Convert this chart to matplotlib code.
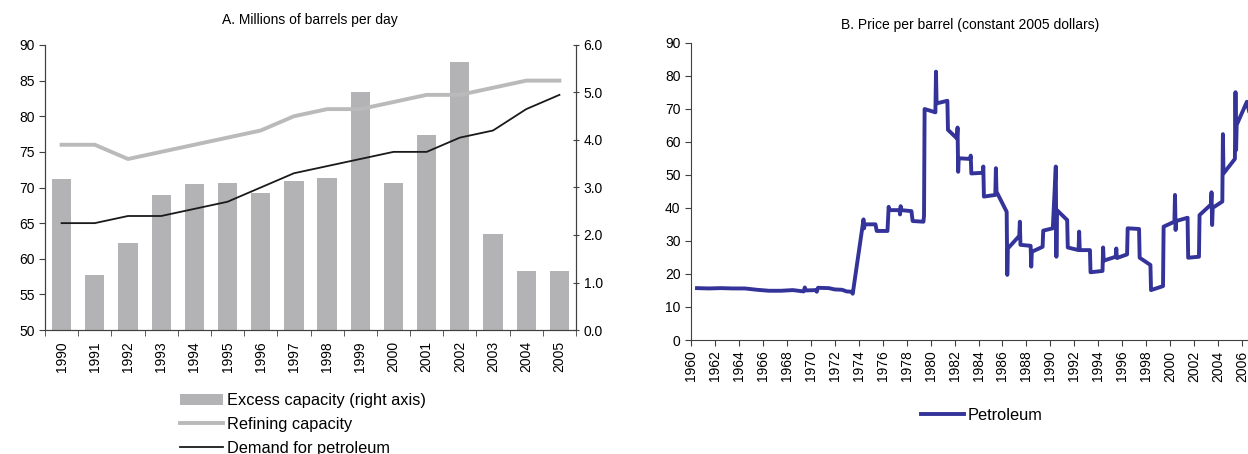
import numpy as np
import matplotlib.pyplot as plt
from matplotlib.ticker import FormatStrFormatter
from matplotlib.patches import Patch
from matplotlib.lines import Line2D

plt.rcParams['font.family'] = ['Liberation Sans', 'DejaVu Sans']
plt.rcParams['font.size'] = 10

# Panel A data (millions of barrels per day)
years_a = list(range(1990, 2006))
excess_capacity = [3.18, 1.16, 1.84, 2.85, 3.07, 3.09, 2.88, 3.14,
                   3.20, 5.01, 3.09, 4.10, 5.64, 2.02, 1.25, 1.25]
refining_capacity = [76, 76, 74, 75, 76, 77, 78, 80, 81, 81, 82, 83, 83, 84, 85, 85]
demand = [65, 65, 66, 66, 67, 68, 70, 72, 73, 74, 75, 75, 77, 78, 81, 83]

# Panel B data (price per barrel, constant 2005 dollars)
price_year = [1960.5, 1961.5, 1962.5, 1963.5, 1964.5, 1965.5, 1966.5, 1967.5,
              1968.5, 1969.4, 1969.5, 1969.6, 1970.4, 1970.5, 1970.6, 1971.5,
              1972.0, 1972.6, 1973.0, 1973.4, 1973.5, 1974.4, 1974.45, 1974.5,
              1975.4, 1975.5, 1976.4, 1976.5, 1976.55, 1977.4, 1977.45, 1977.5,
              1977.55, 1978.4, 1978.5, 1979.4, 1979.45, 1979.5, 1980.4, 1980.45,
              1980.5, 1981.4, 1981.45, 1982.2, 1982.25, 1982.3, 1982.35, 1983.3,
              1983.35, 1983.4, 1984.35, 1984.4, 1984.45, 1985.4, 1985.45, 1985.5,
              1986.35, 1986.4, 1986.45, 1987.4, 1987.45, 1987.5, 1988.35, 1988.4,
              1988.45, 1989.35, 1989.4, 1990.2, 1990.45, 1990.5, 1990.55, 1991.4,
              1991.45, 1992.35, 1992.4, 1992.45, 1993.3, 1993.35, 1994.35, 1994.4,
              1994.45, 1995.45, 1995.5, 1995.55, 1996.4, 1996.45, 1997.4, 1997.45,
              1998.35, 1998.4, 1999.4, 1999.45, 2000.35, 2000.4, 2000.45, 2000.5,
              2001.45, 2001.5, 2002.4, 2002.45, 2003.4, 2003.45, 2003.5, 2003.55,
              2004.35, 2004.4, 2004.45, 2005.4, 2005.45, 2005.5, 2005.55, 2006.4,
              2006.6]
price_value = [15.7, 15.6, 15.7, 15.6, 15.6, 15.2, 14.9, 14.9,
               15.1, 14.7, 15.9, 15.0, 15.1, 14.6, 15.8, 15.7,
               15.3, 15.2, 14.7, 14.6, 14.0, 36.5, 33.8, 35.0,
               35.0, 33.0, 33.0, 40.3, 39.3, 39.3, 38.0, 40.5,
               39.3, 39.0, 36.0, 35.8, 37.5, 69.9, 68.9, 81.2,
               71.6, 72.4, 63.6, 61.0, 64.3, 50.9, 55.0, 54.8,
               55.8, 50.4, 50.6, 52.5, 43.4, 43.9, 52.0, 44.9,
               38.8, 19.7, 27.7, 31.5, 35.8, 28.8, 28.5, 22.2,
               26.7, 28.2, 33.1, 33.8, 52.5, 25.2, 39.3, 36.3,
               28.0, 27.2, 32.8, 27.2, 27.2, 20.5, 20.9, 28.0,
               24.0, 25.2, 27.7, 24.8, 25.9, 33.8, 33.6, 24.9,
               22.7, 15.1, 16.3, 34.3, 35.8, 43.9, 33.3, 36.0,
               37.0, 24.9, 25.2, 37.8, 41.0, 44.7, 34.8, 40.0,
               41.9, 62.3, 50.4, 54.8, 75.0, 57.5, 65.1, 72.1,
               69.0]

AXIS = '#404040'
BAR_GRAY = '#b3b3b6'
LINE_GRAY = '#bababa'
NAVY = '#333399'
LEGEND_SIZE = 11.8

fig = plt.figure(figsize=(12.48, 4.54), dpi=100)

# Panel A
ax1 = fig.add_axes([45 / 1248, 124 / 454, 531 / 1248, 285 / 454])
ax2 = ax1.twinx()
x = np.arange(len(years_a))

ax2.bar(x, excess_capacity, width=0.58, color=BAR_GRAY)
ax1.plot(x, refining_capacity, color=LINE_GRAY, linewidth=2.8)
ax1.plot(x, demand, color='#1a1a1a', linewidth=1.3)
ax1.set_zorder(ax2.get_zorder() + 1)
ax1.patch.set_visible(False)

ax1.set_xlim(-0.5, len(years_a) - 0.5)
ax1.set_ylim(50, 90)
ax2.set_ylim(0, 6)
ax1.set_yticks(range(50, 91, 5))
ax2.set_yticks(np.arange(0, 6.1, 1))
ax2.yaxis.set_major_formatter(FormatStrFormatter('%.1f'))

ax1.set_xticks(x)
ax1.set_xticklabels([str(y) for y in years_a], rotation=90)
ax1.set_xticks(np.arange(-0.5, len(years_a), 1), minor=True)
ax1.tick_params(axis='x', which='major', length=0, pad=8)
ax1.tick_params(axis='x', which='minor', length=4, color=AXIS)
ax1.tick_params(axis='y', length=4, color=AXIS)
ax2.tick_params(axis='y', length=4, color=AXIS, direction='inout')

for a in (ax1, ax2):
    a.spines['top'].set_visible(False)
    for s in ('left', 'right', 'bottom'):
        a.spines[s].set_color(AXIS)

fig.text(310 / 1248, 1 - 20 / 454, 'A. Millions of barrels per day',
         ha='center', va='center')

handles_a = [Patch(facecolor=BAR_GRAY, edgecolor='none'),
             Line2D([], [], color=LINE_GRAY, linewidth=2.8),
             Line2D([], [], color='#1a1a1a', linewidth=1.3)]
labels_a = ['Excess capacity (right axis)', 'Refining capacity', 'Demand for petroleum']
fig.legend(handles_a, labels_a, loc='upper left',
           bbox_to_anchor=(180 / 1248, 1 - 393 / 454), frameon=False,
           borderpad=0, borderaxespad=0, handlelength=2.65,
           handletextpad=0.2, labelspacing=0.55, fontsize=LEGEND_SIZE)

# Panel B
ax3 = fig.add_axes([691 / 1248, 114 / 454, 48 * 11.98 / 1248, 297.4 / 454])
ax3.plot(price_year, price_value, color=NAVY, linewidth=2.8)
ax3.set_xlim(1960, 2008)
ax3.set_ylim(0, 90)
ax3.set_yticks(range(0, 91, 10))
ax3.set_xticks(range(1960, 2009, 2))
ax3.set_xticklabels([str(y) for y in range(1960, 2009, 2)], rotation=90)
ax3.tick_params(length=4, color=AXIS)
ax3.spines['top'].set_visible(False)
ax3.spines['right'].set_visible(False)
ax3.spines['left'].set_color(AXIS)
ax3.spines['bottom'].set_color(AXIS)

fig.text(970 / 1248, 1 - 25 / 454, 'B. Price per barrel (constant 2005 dollars)',
         ha='center', va='center')
fig.legend([Line2D([], [], color=NAVY, linewidth=2.8)], ['Petroleum'],
           loc='center left', bbox_to_anchor=(921 / 1248, 1 - 415 / 454),
           frameon=False, borderpad=0, borderaxespad=0,
           handlelength=2.65, handletextpad=0.2, fontsize=LEGEND_SIZE)

fig.savefig('out.png', dpi=100)
